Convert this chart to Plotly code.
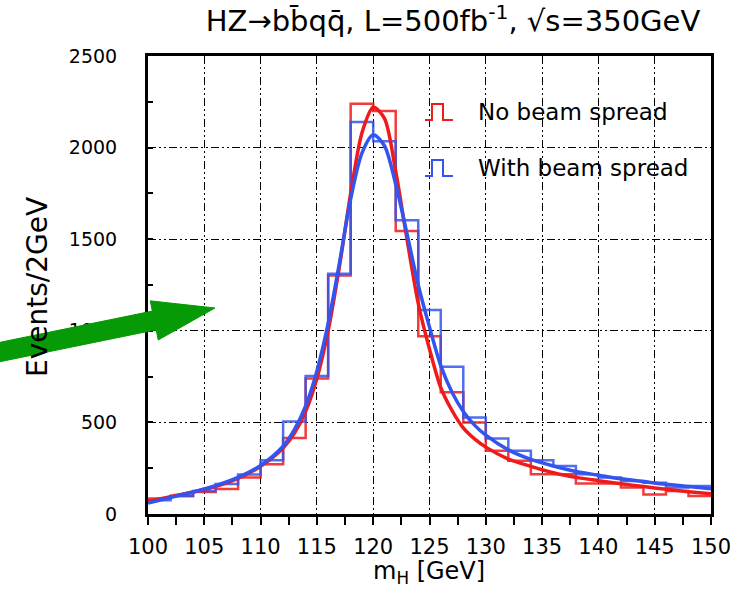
import plotly.graph_objects as go
import numpy as np

# ---- data ----
bin_edges = [100, 102, 104, 106, 108, 110, 112, 114, 116, 118, 120, 122, 124, 126,
             128, 130, 132, 134, 136, 138, 140, 142, 144, 146, 148, 150]
hist_no_spread = [85, 98, 120, 137, 199, 272, 415, 740, 1302, 2240, 2200, 1545, 970,
                  664, 500, 345, 290, 217, 217, 166, 166, 144, 107, 126, 98]
hist_with_spread = [75, 98, 126, 164, 215, 293, 505, 753, 1311, 2140, 2035, 1603, 1114,
                    804, 527, 412, 345, 293, 262, 217, 199, 180, 171, 144, 153]

curve_x = [100, 102, 104, 106, 108, 110, 112, 113, 114, 115, 116, 117, 118, 119, 120,
           121, 122, 123, 124, 125, 126, 127, 128, 129, 130, 132, 134, 136, 138, 140,
           142, 144, 146, 148, 150]
curve_no_spread = [70, 95, 120, 150, 195, 260, 360, 440, 560, 740, 1000, 1350, 1750, 2080,
                   2220, 2160, 1870, 1500, 1150, 900, 690, 565, 470, 410, 365, 300, 260,
                   225, 200, 182, 165, 150, 135, 122, 110]
curve_with_spread = [60, 90, 120, 155, 200, 265, 370, 460, 590, 780, 1040, 1370, 1720, 1970,
                     2070, 2010, 1800, 1530, 1250, 1020, 810, 665, 560, 485, 430, 350, 298,
                     262, 232, 212, 192, 177, 162, 150, 138]

legend_labels = ["No beam spread", "With beam spread"]
x_ticks = [100, 105, 110, 115, 120, 125, 130, 135, 140, 145, 150]
y_ticks = [0, 500, 1000, 1500, 2000, 2500]

RED = "#f01a1a"
BLUE = "#3355ee"
FONT = "DejaVu Sans, Liberation Sans, sans-serif"

W, H = 743, 589
L, R, T, B = 148, 711, 56, 514


def px2paper(px, py):
    return (px - L) / (R - L), (B - py) / (B - T)


fig = go.Figure()


def step_xy(vals):
    return bin_edges, list(vals) + [vals[-1]]


for vals, col in [(hist_no_spread, RED), (hist_with_spread, BLUE)]:
    xs, ys = step_xy(vals)
    fig.add_trace(go.Scatter(x=xs, y=ys, mode="lines", line=dict(color=col, width=2.5, shape="hv"),
                             opacity=0.85, showlegend=False, hoverinfo="skip"))

for vals, col in [(curve_no_spread, RED), (curve_with_spread, BLUE)]:
    fig.add_trace(go.Scatter(x=curve_x, y=vals, mode="lines",
                             line=dict(color=col, width=3.5, shape="spline", smoothing=0.8),
                             showlegend=False, hoverinfo="skip"))

grid_dash = "8px,3px,2px,3px,2px,3px"

fig.update_xaxes(range=[100, 150], tickvals=x_ticks, ticks="outside", ticklen=8, tickwidth=1.5,
                 tickcolor="black", showline=True, linewidth=3, linecolor="black", mirror=True,
                 showgrid=True, gridcolor="black", gridwidth=1.2, griddash=grid_dash,
                 minor=dict(dtick=2.5, ticks="outside", ticklen=8, tickwidth=1.5, tickcolor="black",
                            showgrid=False),
                 tickfont=dict(family=FONT, size=21, color="black"), ticklabelstandoff=4,
                 zeroline=False, automargin=False, title=None)
fig.update_yaxes(range=[0, 2500], tickvals=y_ticks, ticks="inside", ticklen=5, tickwidth=1.5,
                 tickcolor="black", showline=True, linewidth=3, linecolor="black", mirror=True,
                 showgrid=True, gridcolor="black", gridwidth=1.2, griddash=grid_dash,
                 minor=dict(dtick=250, ticks="inside", ticklen=5, tickwidth=1.5, tickcolor="black",
                            showgrid=False),
                 tickfont=dict(family=FONT, size=19, color="black"), ticklabelstandoff=24,
                 zeroline=False, automargin=False, title=None)

shapes = []
annotations = []

# legend glyphs + labels
for (xs, ylow, yhigh, ytext, col, lab) in [
        ((425, 432, 443, 453), 120, 104, 112, RED, legend_labels[0]),
        ((425, 432, 443, 453), 176, 160, 168, BLUE, legend_labels[1])]:
    pts = [(xs[0], ylow), (xs[1], ylow), (xs[1], yhigh), (xs[2], yhigh), (xs[2], ylow), (xs[3], ylow)]
    pp = [px2paper(*p) for p in pts]
    path = "M " + " L ".join(f"{a:.4f},{b:.4f}" for a, b in pp)
    shapes.append(dict(type="path", xref="paper", yref="paper", path=path,
                       line=dict(color=col, width=2)))
    tx, ty = px2paper(476, ytext)
    annotations.append(dict(xref="paper", yref="paper", x=tx, y=ty, xanchor="left", yanchor="middle",
                            text=lab, showarrow=False, font=dict(family=FONT, size=23, color="black")))

# y-axis title
annotations.append(dict(xref="paper", yref="paper", x=px2paper(37, 0)[0], y=px2paper(0, 287)[1],
                        text="Events/2GeV", textangle=-90, showarrow=False, xanchor="center",
                        yanchor="middle", font=dict(family=FONT, size=28, color="black")))

# x-axis title
annotations.append(dict(xref="paper", yref="paper", x=px2paper(429, 0)[0], y=px2paper(0, 589)[1],
                        text="m<sub>H</sub> [GeV]", showarrow=False, xanchor="center",
                        yanchor="bottom", borderpad=0, font=dict(family=FONT, size=24, color="black")))

# green arrow (decoration)
tip = np.array([215.0, 308.0])
d = np.array([215.0, -44.0])
d = d / np.linalg.norm(d)
n = np.array([-d[1], d[0]])
head_len, head_hw, shaft_hw = 62.0, 20.0, 9.5
base = tip - d * head_len
start = tip - d * 240
poly = [start + n * shaft_hw, base + n * shaft_hw, base + n * head_hw, tip,
        base - n * head_hw, base - n * shaft_hw, start - n * shaft_hw]
pp = [px2paper(p[0], p[1]) for p in poly]
path = "M " + " L ".join(f"{a:.4f},{b:.4f}" for a, b in pp) + " Z"
shapes.append(dict(type="path", xref="paper", yref="paper", path=path, fillcolor="#079a07",
                   line=dict(color="#079a07", width=1), layer="above"))

fig.update_layout(
    width=W, height=H,
    margin=dict(l=L, r=W - R, t=T, b=H - B, autoexpand=False),
    plot_bgcolor="white", paper_bgcolor="white",
    title=dict(text="HZ→bb̄qq̄, L=500fb<sup>-1</sup>, √s=350GeV", x=453 / W, xanchor="center",
               y=1 - 21 / H, yanchor="middle", xref="container", yref="container",
               font=dict(family=FONT, size=29, color="black")),
    shapes=shapes, annotations=annotations, showlegend=False,
)

fig.write_html("out.html")
